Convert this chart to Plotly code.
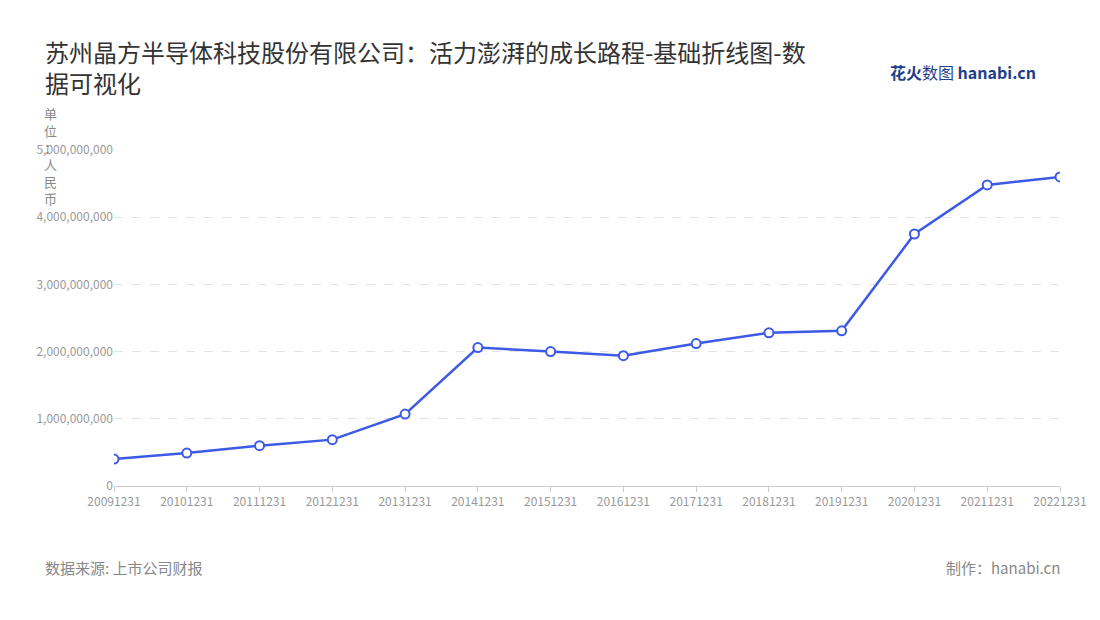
import plotly.graph_objects as go

dates = ["20091231","20101231","20111231","20121231","20131231","20141231","20151231",
         "20161231","20171231","20181231","20191231","20201231","20211231","20221231"]
values = [0.40e9,0.49e9,0.60e9,0.69e9,1.07e9,2.06e9,2.00e9,1.94e9,2.12e9,2.28e9,2.31e9,3.75e9,4.48e9,4.60e9]
yticks = [0,1e9,2e9,3e9,4e9,5e9]
ytick_text = ["0","1,000,000,000","2,000,000,000","3,000,000,000","4,000,000,000","5,000,000,000"]

F = "Noto Sans CJK SC"
L, R, T, B = 106, 48, 142, 142
fig = go.Figure(go.Scatter(
    x=dates, y=values, mode="lines+markers",
    line=dict(color="#3d5ae6", width=2.5),
    marker=dict(size=9, color="white", line=dict(color="#3d5ae6", width=2)),
))
fig.update_layout(
    width=1100, height=620, paper_bgcolor="white", plot_bgcolor="white",
    margin=dict(l=L, r=R, t=T, b=B), showlegend=False,
    font=dict(family=F, color="#999"),
    xaxis=dict(type="category", showgrid=False, showline=True, linecolor="#ccc",
               ticks="outside", tickcolor="#ccc", ticklen=5, tickfont=dict(size=12, color="#999"),
               range=[0, len(dates)-1]),
    yaxis=dict(range=[0,5e9], tickvals=yticks, ticktext=ytick_text, showgrid=True,
               gridcolor="#e3e3e3", griddash="dash", zeroline=False, showline=False,
               tickfont=dict(size=12, color="#999")),
)
def P(px):
    return (px - 8 - L) / (1100 - L - R)
def Q(py):
    return (620 - B - (py - 8)) / (620 - T - B)
fig.add_annotation(xref="paper", yref="paper", x=P(43), y=Q(102), xanchor="left", yanchor="bottom",
    align="left", showarrow=False,
    text="苏州晶方半导体科技股份有限公司：活力澎湃的成长路程-基础折线图-数<br>据可视化",
    font=dict(size=24, color="#333", family=F))
fig.add_annotation(xref="paper", yref="paper", x=P(42), y=Q(102), xanchor="left", yanchor="top",
    showarrow=False, text="单<br>位<br>：<br>人<br>民<br>币", font=dict(size=13, color="#888", family=F))
fig.add_annotation(xref="paper", yref="paper", x=P(1038), y=Q(72), xanchor="right", yanchor="middle",
    showarrow=False, text="<b>花火</b>数图 <b>hanabi.cn</b>", font=dict(size=16, color="#1e3f8a", family=F))
fig.add_annotation(xref="paper", yref="paper", x=P(43), y=Q(567), xanchor="left", yanchor="middle",
    showarrow=False, text="数据来源: 上市公司财报", font=dict(size=15, color="#888", family=F))
fig.add_annotation(xref="paper", yref="paper", x=P(1062), y=Q(567), xanchor="right", yanchor="middle",
    showarrow=False, text="制作：hanabi.cn", font=dict(size=15, color="#888", family=F))
fig.write_html("out.html")
